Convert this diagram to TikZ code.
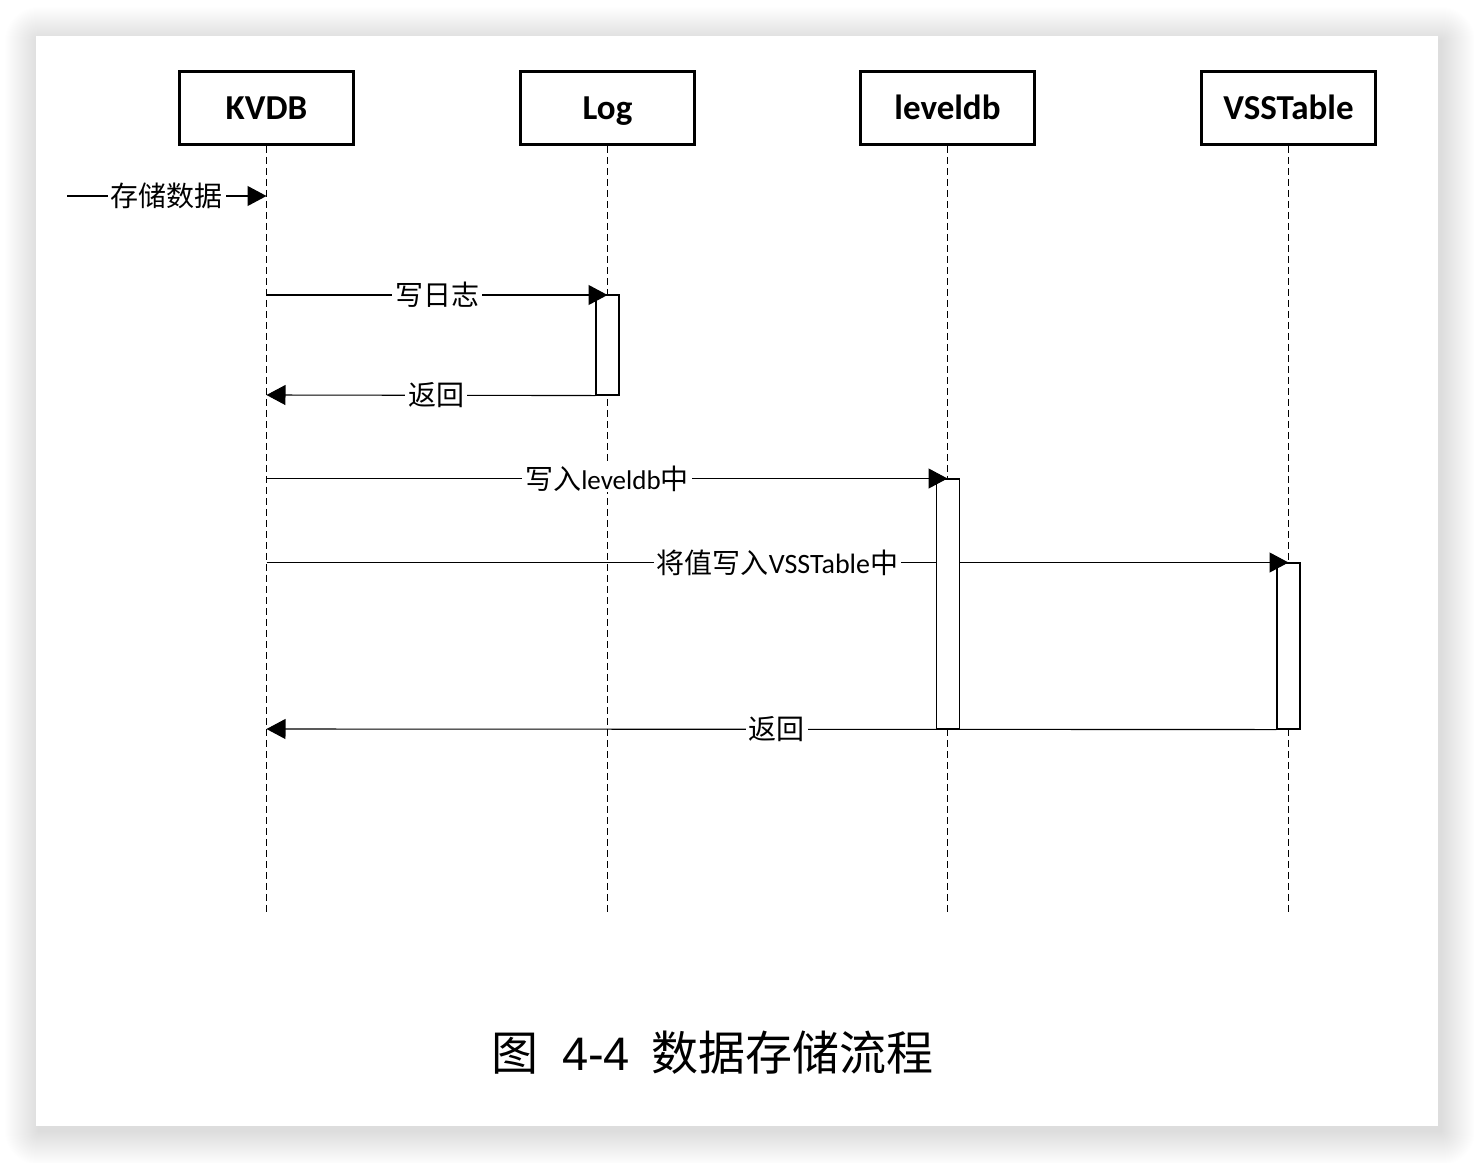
\documentclass[tikz,border=0pt]{standalone}
\usepackage{fontspec}
\usetikzlibrary{arrows.meta}
\newfontfamily\cjk{Noto Sans CJK SC}
\newfontfamily\carl{Carlito}
\newfontfamily\arialfont{Liberation Sans}

\begin{document}
\begin{tikzpicture}[x=1pt,y=-1pt,
  actor/.style={draw,line width=2.8pt,minimum width=174pt,minimum height=73pt,
    inner sep=0pt,text height=22.5pt,text depth=0pt,
    font=\carl\bfseries\fontsize{35}{40}\selectfont},
  lifeline/.style={line width=1.1pt,dash pattern=on 7pt off 4pt},
  msg/.style={line width=1.1pt},
  tip/.style={-{Triangle[length=19pt,width=20pt]}},
  lbl/.style={fill=white,inner xsep=3pt,inner ysep=1pt,
    font=\cjk\fontsize{28}{32}\selectfont},
  act/.style={draw,fill=white,line width=1.1pt,minimum width=23pt,inner sep=0pt}
]
\useasboundingbox (0,0) rectangle (1474,1162);

% soft shadow behind the page
\foreach \i in {1,...,34}{
  \fill[black,opacity=0.0055,rounded corners=\i pt]
    (36-\i+3,36-\i+5) rectangle (1438+\i+3,1126+\i+5);
}
\fill[white] (36,36) rectangle (1438,1126);

% participants
\node[actor] (kvdb) at (266.5,108) {KVDB};
\node[actor] (log)  at (607.5,108) {Log};
\node[actor] (ldb)  at (947.5,108) {leveldb};
\node[actor] (vss)  at (1288.5,108) {VSSTable};

% lifeline ends
\coordinate (kvdbEnd) at (266.5,915);
\coordinate (logEnd)  at (607.5,915);
\coordinate (ldbEnd)  at (947.5,915);
\coordinate (vssEnd)  at (1288.5,915);

\draw[lifeline] (kvdb.south) -- (kvdbEnd);
\draw[lifeline] (log.south)  -- (logEnd);
\draw[lifeline] (ldb.south)  -- (ldbEnd);
\draw[lifeline] (vss.south)  -- (vssEnd);

% message end points
\coordinate (inStart) at (67,196);
\coordinate (inEnd)   at (266.5,196);
\coordinate (m1s) at (266.5,295);
\coordinate (m1e) at (607.5,295);
\coordinate (m2e) at (266.5,395);
\coordinate (m3s) at (266.5,478.5);
\coordinate (m3e) at (947.5,478.5);
\coordinate (m4s) at (266.5,562.5);
\coordinate (m4e) at (1288.5,562.5);
\coordinate (m5e) at (266.5,729);

% the long call passes behind the leveldb activation
\draw[msg] (m4s) -- (m4e);

% activations
\node[act,minimum height=100pt] (actLog) at (607.5,345) {};
\node[act,minimum height=250pt] (actLdb) at (948,604) {};
\node[act,minimum height=166pt] (actVss) at (1288.5,646) {};

% messages
\draw[msg,tip] (inStart) -- node[lbl]{存储数据} (inEnd);
\draw[msg,tip] (m1s) -- node[lbl]{写日志} (m1e);
\draw[msg,tip] (actLog.south west) -- node[lbl,pos=0.484]{返回} (m2e);
\draw[msg,tip] (m3s) -- node[lbl]{写入{\carl\fontsize{27}{32}\selectfont leveldb}中} (m3e);
\draw[msg,tip] ([xshift=-30pt]m4e) -- (m4e);
\path (m4s) -- node[lbl]{将值写入{\carl\fontsize{28}{32}\selectfont VSSTable}中} (m4e);
\draw[msg,tip] (actVss.south west) -- node[lbl,pos=0.495]{返回} (m5e);

% caption
\node[font=\cjk\fontsize{47}{52}\selectfont,inner sep=0pt] (caption) at (712.5,1053)
  {图\hspace{24pt}{\arialfont 4-4}\hspace{22pt}数据存储流程};
\end{tikzpicture}
\end{document}
